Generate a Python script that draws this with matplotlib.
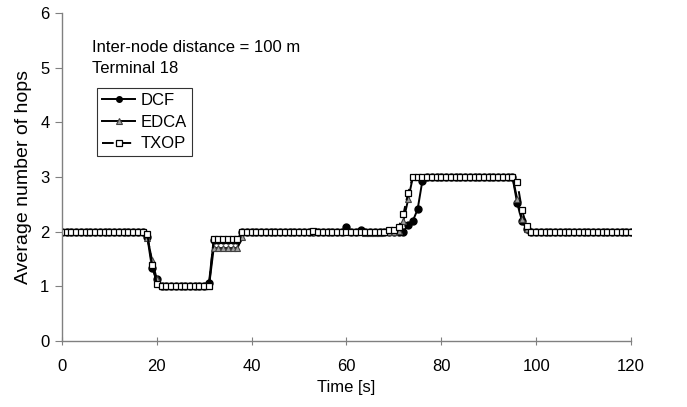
import numpy as np
import matplotlib
matplotlib.use('Agg')
import matplotlib.pyplot as plt

plt.rcParams['font.family'] = ['Liberation Sans', 'DejaVu Sans']

# time axis [s]
t = np.arange(0, 121)

# average number of hops, one value per second
dcf = ([2.0] * 18 + [1.9, 1.33, 1.13] + [1.0] * 10 + [1.06] + [1.85] * 6
       + [2.0] * 22 + [2.08, 2.0, 2.0, 2.04] + [2.0] * 8
       + [2.0, 2.13, 2.2, 2.41, 2.93] + [3.0] * 19
       + [2.52, 2.2, 2.05] + [2.0] * 22)
edca = ([2.0] * 18 + [1.89, 1.48, 1.13] + [1.0] * 11 + [1.7] * 6
        + [1.9] + [2.0] * 25 + [1.97] * 4 + [2.0] * 3
        + [2.02, 2.2, 2.59] + [3.0] * 22
        + [2.6, 2.24, 2.05] + [2.0] * 22)
txop = ([2.0] * 18 + [1.95, 1.4, 1.05] + [1.0] * 11 + [1.86] * 6
        + [2.0] * 15 + [2.02] + [2.0] * 15 + [2.03] * 2
        + [2.08, 2.32, 2.71] + [3.0] * 22
        + [2.91, 2.4, 2.1] + [2.0] * 22)

fig = plt.figure(figsize=(6.87, 4.07), dpi=100)
ax = fig.add_axes([0.0902, 0.162, 0.8283, 0.806])

ax.plot(t, dcf, color='black', lw=1.4, marker='o', ms=5,
        mfc='black', mec='black', label='DCF')
ax.plot(t, edca, color='black', lw=1.4, marker='^', ms=5,
        mfc='#a0a0a0', mec='#404040', mew=0.8, label='EDCA')
ax.plot(t, txop, color='black', lw=1.4, ls=(0, (6, 3)), marker='s', ms=5,
        mfc='white', mec='black', mew=0.9, label='TXOP')

ax.set_xlim(0, 120)
ax.set_ylim(0, 6)
ax.set_xticks(np.arange(0, 121, 20))
ax.set_yticks(np.arange(0, 7, 1))

for s in ['top', 'right']:
    ax.spines[s].set_visible(False)
for s in ['left', 'bottom']:
    ax.spines[s].set_color('#808080')
    ax.spines[s].set_linewidth(1.0)
ax.tick_params(axis='y', direction='out', length=5, color='#808080',
               labelsize=12, pad=4)
ax.tick_params(axis='x', direction='inout', length=6, color='#808080',
               labelsize=12, pad=10)

ax.set_xlabel('Time [s]', fontsize=12, labelpad=4)
ax.set_ylabel('Average number of hops', fontsize=14, labelpad=6)

ax.text(0.0527, 0.896, 'Inter-node distance = 100 m', transform=ax.transAxes,
        fontsize=12, va='center')
ax.text(0.0527, 0.832, 'Terminal 18', transform=ax.transAxes, fontsize=12,
        va='center')

leg = ax.legend(loc='upper left', bbox_to_anchor=(0.0615, 0.771),
                borderaxespad=0, fontsize=12,
                frameon=True, fancybox=False, edgecolor='black',
                handlelength=2.0, handletextpad=0.3, borderpad=0.3,
                labelspacing=0.4, markerscale=0.8)
leg.get_frame().set_linewidth(0.8)

fig.savefig('out.png', dpi=100)
